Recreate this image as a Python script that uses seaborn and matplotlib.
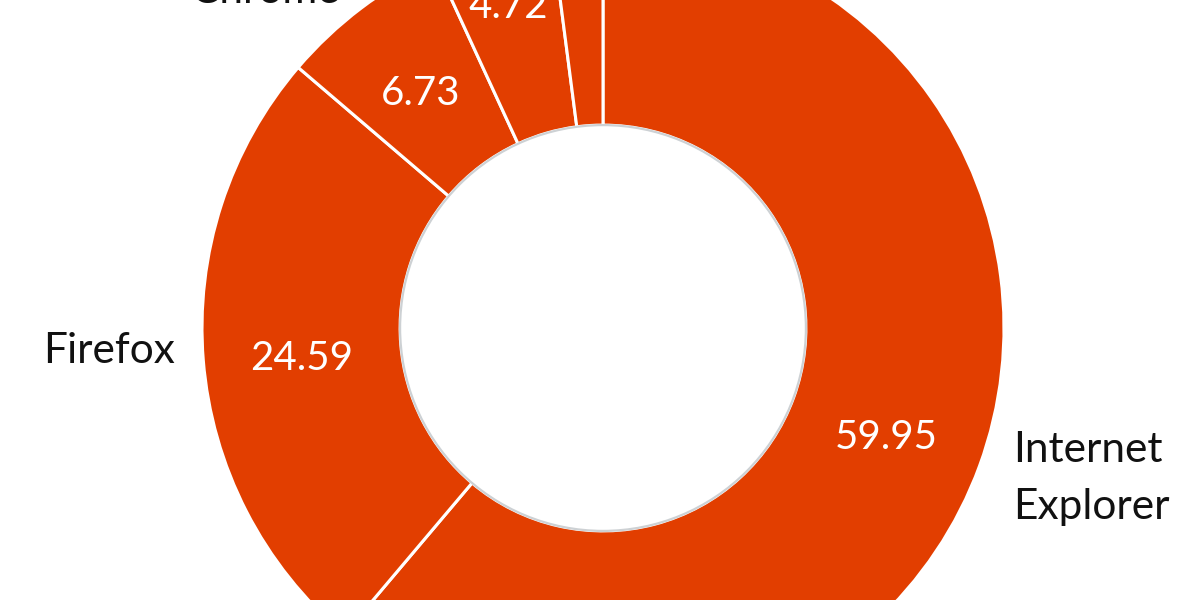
import matplotlib
matplotlib.use("Agg")
import matplotlib.pyplot as plt
import seaborn as sns
import numpy as np
from matplotlib.patches import Circle

# ---- data ----
browsers = ["Internet Explorer", "Firefox", "Chrome", "Safari", "Opera"]
outer_labels = ["Internet\nExplorer", "Firefox", "Chrome", "Safari", "Opera"]
shares = [59.95, 24.59, 6.73, 4.72, 2.02]
value_labels = ["59.95", "24.59", "6.73", "4.72", ""]

# ---- styling (positions) ----
value_radius = [0.753, 0.753, 0.753, 0.85, 0.753]
outer_nudge = [(0.0, 0.0), (0.02, 0.032), (0.0, -0.028), (0.0, 0.0), (0.0, 0.0)]

sns.set_theme(style="white")
plt.rcParams["font.family"] = ["Lato", "DejaVu Sans"]

slice_color = "#E23E00"

fig = plt.figure(figsize=(12, 6), dpi=100)
ax = fig.add_axes([0, 0, 1, 1])

wedges, _ = ax.pie(
    shares,
    colors=[slice_color] * len(shares),
    startangle=90,
    counterclock=False,
    radius=1.0,
    wedgeprops=dict(width=0.494, edgecolor="white", linewidth=2.2),
)

for w, lab, rv, name, (nx, ny) in zip(wedges, value_labels, value_radius,
                                      outer_labels, outer_nudge):
    mid = np.deg2rad((w.theta1 + w.theta2) / 2)
    c, s = np.cos(mid), np.sin(mid)
    if lab:
        ax.text(rv * c, rv * s - 0.015, lab, ha="center", va="center",
                fontsize=29, color="white")
    ax.text(1.09 * c + nx, 1.09 * s + ny, name,
            ha="left" if c > 0 else "right", va="center",
            fontsize=30.5, color="#111111", linespacing=1.6)

# subtle grey rim around the hole
ax.add_patch(Circle((0, 0), 0.506, facecolor="none", edgecolor="#cdd1d4",
                    linewidth=1.6, zorder=5))

ax.set_aspect("auto")
ax.set_xlim(-603 / 401, 597 / 401)
ax.set_ylim(-272 / 401, 328 / 401)
ax.axis("off")

fig.savefig("out.png", dpi=100, facecolor="white")
